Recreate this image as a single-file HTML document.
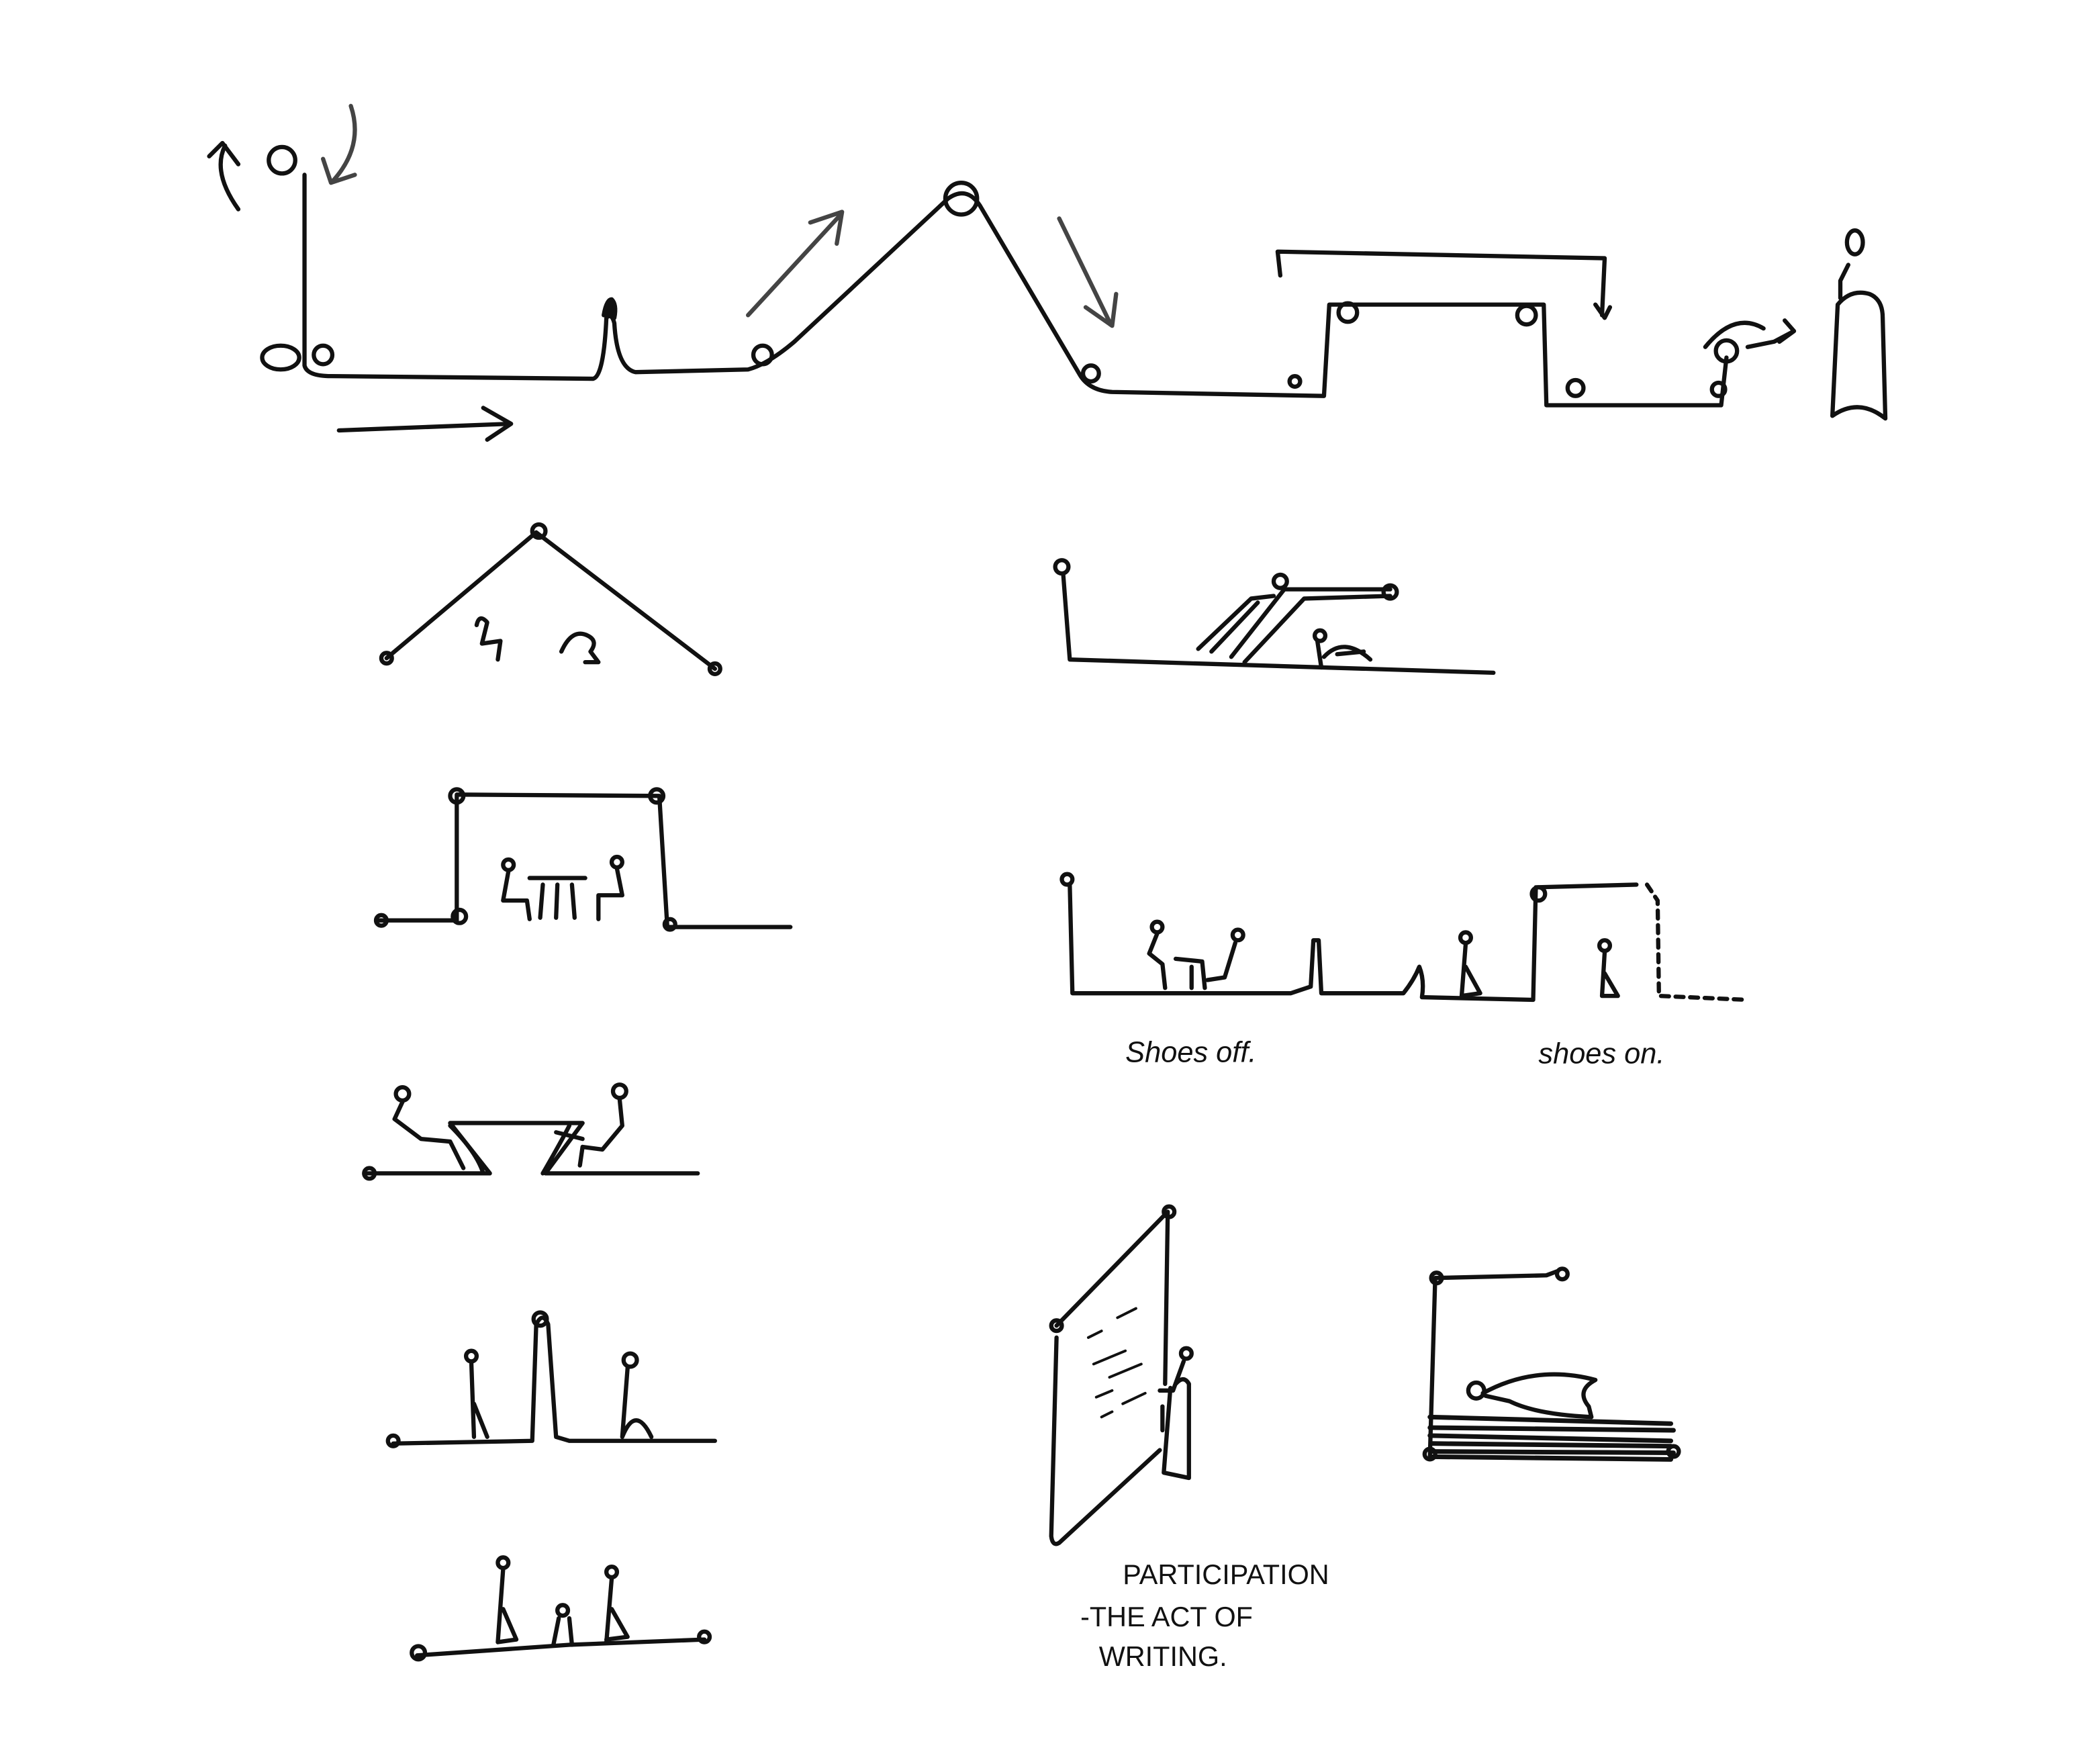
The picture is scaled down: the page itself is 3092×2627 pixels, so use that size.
<!DOCTYPE html>
<html><head><meta charset="utf-8"><style>
html,body{margin:0;padding:0;background:#fff;}
svg{display:block;}
text{font-family:"Liberation Sans",sans-serif;fill:#111;}
</style></head><body>
<svg width="3092" height="2627" viewBox="0 0 1568 1332" preserveAspectRatio="none" xmlns="http://www.w3.org/2000/svg">
<rect width="1568" height="1332" fill="#fff"/>
<g fill="none" stroke="#111" stroke-width="3.2" stroke-linecap="round" stroke-linejoin="round">
<path d="M230 132 L230 276 Q232 284 250 284 L448 286 Q456 284 458 240 Q462 236 464 244 Q466 278 480 281 L565 279 Q580 275 600 258 L716 150 Q730 140 740 155 L815 282 Q822 295 840 296 L1000 299 L1004 230 L1166 230 L1168 306 L1300 306 L1304 270"/>
<circle cx="213" cy="121" r="10"/>
<ellipse cx="212" cy="270" rx="14" ry="9"/>
<circle cx="244" cy="268" r="7"/>
<path d="M456 238 Q458 226 462 226 Q466 230 464 240" fill="#111"/>
<circle cx="576" cy="268" r="7"/>
<circle cx="726" cy="150" r="12"/>
<circle cx="824" cy="282" r="6"/>
<circle cx="978" cy="288" r="4"/>
<circle cx="1018" cy="236" r="7"/>
<circle cx="1153" cy="238" r="7"/>
<circle cx="1190" cy="293" r="6"/>
<circle cx="1298" cy="294" r="5"/>
<circle cx="1304" cy="265" r="8"/>
<path d="M967 208 L965 190 L1212 195 L1210 238 M1205 230 L1212 240 L1216 232"/>
<path d="M256 325 L385 320 M365 308 L386 320 L368 332"/>
<path d="M565 238 L635 162 M612 168 L636 160 L632 184" stroke="#444"/>
<path d="M800 165 L838 243 M820 232 L840 246 L843 222" stroke="#444"/>
<path d="M180 158 Q160 130 170 110 M158 118 L168 108 L180 124"/>
<path d="M265 80 Q275 110 252 136 M244 120 L250 138 L268 132" stroke="#444"/>
<path d="M1288 262 Q1310 235 1332 248 M1320 262 L1340 258 L1355 250 M1344 258 L1355 250 L1348 242"/>
<ellipse cx="1401" cy="183" rx="6" ry="9"/>
<path d="M1396 200 L1390 212 L1390 225 M1384 314 L1388 230 Q1398 218 1412 222 Q1422 226 1422 240 L1424 316 Q1404 300 1384 314"/>
<path d="M292 497 L405 402 L540 505"/>
<circle cx="292" cy="497" r="4"/><circle cx="407" cy="401" r="5"/><circle cx="540" cy="505" r="4"/>
<path d="M360 472 Q362 463 368 470 L364 486 L378 484 L376 498"/>
<path d="M424 492 Q432 474 444 480 Q452 484 446 492 L452 500 L442 500"/>
<circle cx="802" cy="428" r="5"/>
<path d="M803 433 L808 498 L1128 508"/>
<path d="M905 490 L945 452 L962 450 M915 492 L950 455 M930 496 L970 445 L1050 445 M940 500 L985 452 L1050 450"/>
<circle cx="1050" cy="447" r="5"/><circle cx="967" cy="439" r="5"/>
<circle cx="997" cy="480" r="4"/>
<path d="M995 484 L998 504 M1000 496 Q1015 480 1035 498 M1010 494 L1030 492"/>
<path d="M285 695 L345 695 L345 600 L498 601 L504 700 L597 700"/>
<circle cx="288" cy="695" r="4"/><circle cx="345" cy="601" r="5"/><circle cx="496" cy="601" r="5"/><circle cx="347" cy="692" r="5"/><circle cx="506" cy="698" r="4"/>
<circle cx="384" cy="653" r="4"/><path d="M384 658 L380 680 L398 680 L400 694"/>
<circle cx="466" cy="651" r="4"/><path d="M466 656 L470 676 L452 676 L452 694"/>
<path d="M400 663 L442 663 M410 668 L408 693 M421 668 L420 693 M432 668 L434 693"/>
<circle cx="806" cy="664" r="4"/>
<path d="M808 668 L810 750 L975 750 L990 745 L992 710 L996 710 L998 750 L1060 750 Q1068 740 1072 730 Q1076 740 1074 753 L1158 755 L1160 670 L1236 668"/>
<path d="M1244 668 L1252 680 L1253 752 L1320 755" stroke-dasharray="6 5"/>
<circle cx="1162" cy="675" r="5"/>
<circle cx="874" cy="700" r="4"/><path d="M874 705 L868 720 L878 728 L880 746 M888 724 L908 726 L910 746 M900 730 L900 746"/>
<circle cx="935" cy="706" r="4"/><path d="M933 712 L925 738 L912 740"/>
<circle cx="1107" cy="708" r="4"/><path d="M1107 713 L1104 752 M1107 730 L1118 750 L1104 752"/>
<circle cx="1212" cy="714" r="4"/><path d="M1212 719 L1210 752 M1212 735 L1222 752 L1210 752"/>
<path d="M276 886 L370 886 L340 848 L440 848 L412 886 L527 886 M365 886 Q360 870 340 850 M410 886 Q425 860 430 850"/>
<circle cx="279" cy="886" r="4"/>
<circle cx="304" cy="826" r="5"/><path d="M304 832 L298 845 L318 860 L340 862 L350 882"/>
<circle cx="468" cy="824" r="5"/><path d="M468 830 L470 850 L455 868 L440 866 L438 880"/>
<path d="M420 855 L440 860"/>
<path d="M297 1090 L402 1088 L405 1000 Q410 990 414 1000 L420 1085 L430 1088 L540 1088"/>
<circle cx="297" cy="1088" r="4"/>
<circle cx="408" cy="996" r="5"/>
<circle cx="356" cy="1024" r="4"/><path d="M356 1029 L358 1085 M358 1060 L368 1085"/>
<circle cx="476" cy="1027" r="5"/><path d="M474 1033 L470 1085 Q480 1060 492 1085"/>
<path d="M315 1250 L430 1242 L532 1238"/>
<circle cx="316" cy="1248" r="5"/><circle cx="532" cy="1236" r="4"/>
<circle cx="380" cy="1180" r="4"/><path d="M380 1185 L376 1240 M380 1215 L390 1238 L376 1240"/>
<circle cx="462" cy="1187" r="4"/><path d="M462 1192 L458 1240 M462 1215 L474 1236 L458 1238"/>
<circle cx="425" cy="1216" r="4"/><path d="M422 1222 L418 1242 M430 1222 L432 1242"/>
<path d="M798 1001 L882 915 L880 1045 M878 1062 L878 1080 M876 1095 L800 1165 Q795 1168 794 1160 L798 1010"/>
<circle cx="798" cy="1001" r="4"/><circle cx="883" cy="915" r="4"/>
<path d="M822 1010 L832 1005 M844 995 L858 988 M826 1030 L850 1020 M838 1040 L862 1030 M828 1055 L840 1050 M848 1060 L865 1052 M832 1070 L840 1066" stroke-width="2"/>
<circle cx="896" cy="1022" r="4"/>
<path d="M894 1028 L886 1050 L876 1050 M884 1048 L879 1112 L898 1116 L898 1045 Q894 1038 888 1045"/>
<path d="M1080 1100 L1084 965 L1168 963 L1176 960"/>
<circle cx="1085" cy="965" r="4"/><circle cx="1180" cy="962" r="4"/>
<circle cx="1115" cy="1050" r="6"/>
<path d="M1120 1052 Q1160 1030 1205 1042 Q1190 1050 1200 1062 L1202 1070 Q1160 1068 1140 1058 L1122 1054"/>
<path d="M1080 1070 L1262 1075 M1080 1078 L1264 1080 M1080 1084 L1262 1088 M1082 1090 L1262 1092 M1082 1096 L1264 1097 M1082 1100 L1262 1102" stroke-width="3.5"/>
<circle cx="1080" cy="1098" r="4"/><circle cx="1264" cy="1096" r="4"/>
</g>
<g font-size="22" font-style="italic">
<text x="850" y="802">Shoes off.</text>
<text x="1162" y="803">shoes on.</text>
</g>
<g font-size="21">
<text x="848" y="1196">PARTICIPATION</text>
<text x="816" y="1228">-THE ACT OF</text>
<text x="830" y="1258">WRITING.</text>
</g>
</svg>
</body></html>
